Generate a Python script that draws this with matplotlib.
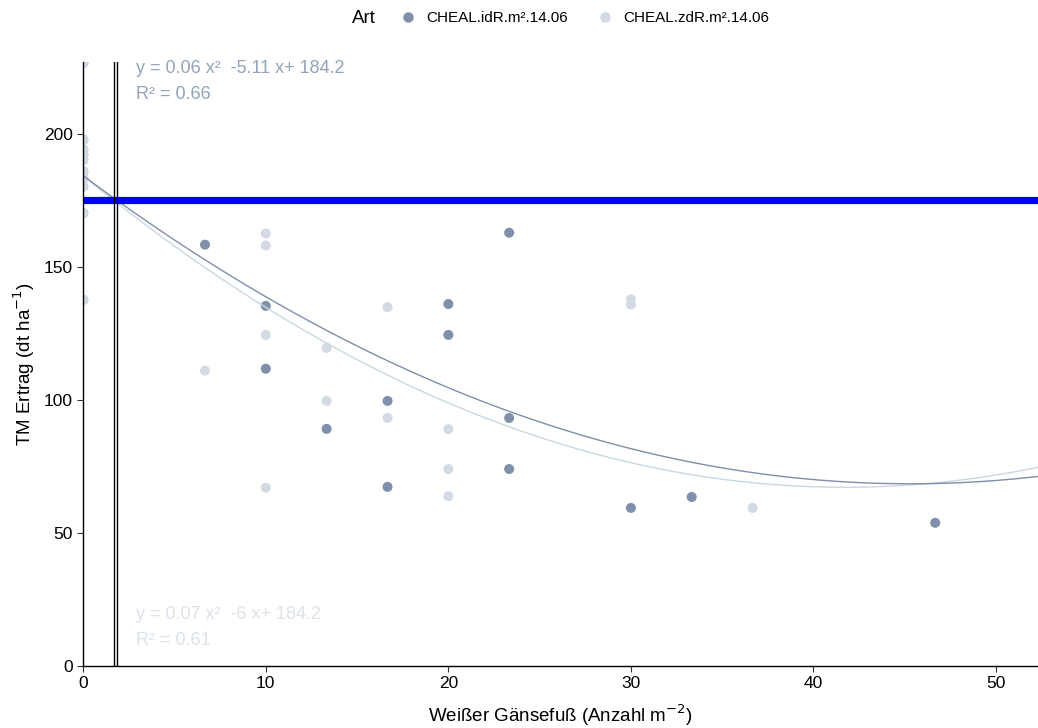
import matplotlib
matplotlib.use("Agg")
import matplotlib.pyplot as plt
import numpy as np
from matplotlib.lines import Line2D

plt.rcParams['font.family'] = ['Liberation Sans', 'DejaVu Sans']

# ---- data ----
control_y = [226.6, 197.7, 194.0, 192.1, 190.2, 185.8, 183.3, 180.2, 170.2, 137.6]

idR_x = [6.67, 10, 10, 13.33, 16.67, 16.67, 20, 20, 23.33, 23.33, 23.33, 30, 33.33, 46.67]
idR_y = [158.3, 135.3, 111.7, 89.1, 99.6, 67.3, 136.0, 124.4, 162.8, 93.2, 74.0, 59.4, 63.5, 53.8]

zdR_x = [6.67, 10, 10, 10, 10, 13.33, 13.33, 16.67, 16.67, 20, 20, 20, 30, 30, 36.67]
zdR_y = [111.0, 162.5, 158.0, 124.4, 67.0, 119.5, 99.6, 134.8, 93.2, 89.0, 74.0, 63.8, 137.8, 135.8, 59.4]

# fitted quadratic coefficients (a, b, c)
fit_idR = [0.0564, -5.11, 184.2]
fit_zdR = [0.0672, -5.607, 184.1]

labels = ["CHEAL.idR.m\u00b2.14.06", "CHEAL.zdR.m\u00b2.14.06"]
eq_idR = ["y = 0.06 x\u00b2  -5.11 x+ 184.2", "R\u00b2 = 0.66"]
eq_zdR = ["y = 0.07 x\u00b2  -6 x+ 184.2", "R\u00b2 = 0.61"]
threshold = 175
vlines_x = [1.70, 1.86]

col_dark = "#8090aa"
col_light = "#d3dae3"
line_dark = "#7f8fab"
line_light = "#c9d8e0"

fig = plt.figure(figsize=(10.38, 7.28), dpi=100)
ax = fig.add_axes([0.0802, 0.0852, 0.9198, 0.8298])

xmax = 52.3
ymax = 227

ax.scatter([0]*len(control_y) + idR_x, control_y + idR_y, s=52, color=col_dark,
           edgecolors='none', zorder=3)
ax.scatter([0]*len(control_y) + zdR_x, control_y + zdR_y, s=52, color=col_light,
           edgecolors='none', zorder=3)

xs = np.linspace(0, xmax, 300)
ax.plot(xs, np.polyval(fit_zdR, xs), color=line_light, lw=1.0, zorder=4)
ax.plot(xs, np.polyval(fit_idR, xs), color=line_dark, lw=1.0, zorder=4)

ax.axhline(threshold, color="#0000ff", lw=5.2, zorder=5)
for vx in vlines_x:
    ax.axvline(vx, color="black", lw=1.0, zorder=6)

fs_eq = 13
ax.text(2.9, 224.5, eq_idR[0], color="#93a3ba", fontsize=fs_eq, va='center', ha='left')
ax.text(2.9, 214.8, eq_idR[1], color="#93a3ba", fontsize=fs_eq, va='center', ha='left')
ax.text(2.9, 19.3, eq_zdR[0], color="#dde2ea", fontsize=fs_eq, va='center', ha='left')
ax.text(2.9, 9.6, eq_zdR[1], color="#dde2ea", fontsize=fs_eq, va='center', ha='left')

ax.set_xlim(0, xmax)
ax.set_ylim(0, ymax)
ax.set_xticks([0, 10, 20, 30, 40, 50])
ax.set_yticks([0, 50, 100, 150, 200])
ax.tick_params(axis='both', labelsize=12.5, colors='#333333', length=4, width=0.8)
ax.tick_params(axis='both', labelcolor='black')
for s in ['top', 'right']:
    ax.spines[s].set_visible(False)
for s in ['left', 'bottom']:
    ax.spines[s].set_linewidth(1.0)
    ax.spines[s].set_color('black')
    ax.spines[s].set_zorder(7)

ax.set_xlabel("Wei\u00dfer G\u00e4nsefu\u00df (Anzahl m$^{-2}$)", fontsize=13.5, labelpad=8)
ax.set_ylabel("TM Ertrag (dt ha$^{-1}$)", fontsize=13.5, labelpad=5)

fig.text(0.339, 0.975, "Art", fontsize=13.5, va='center', ha='left')
handles = [Line2D([], [], marker='o', ls='none', color=col_dark, markersize=6.5),
           Line2D([], [], marker='o', ls='none', color=col_light, markersize=6.5)]
fig.legend(handles, labels, loc='center left', bbox_to_anchor=(0.371, 0.975), ncol=2,
           frameon=False, fontsize=11, handletextpad=0.6, columnspacing=1.8,
           handlelength=1.2)

fig.savefig("out.png", dpi=100)
